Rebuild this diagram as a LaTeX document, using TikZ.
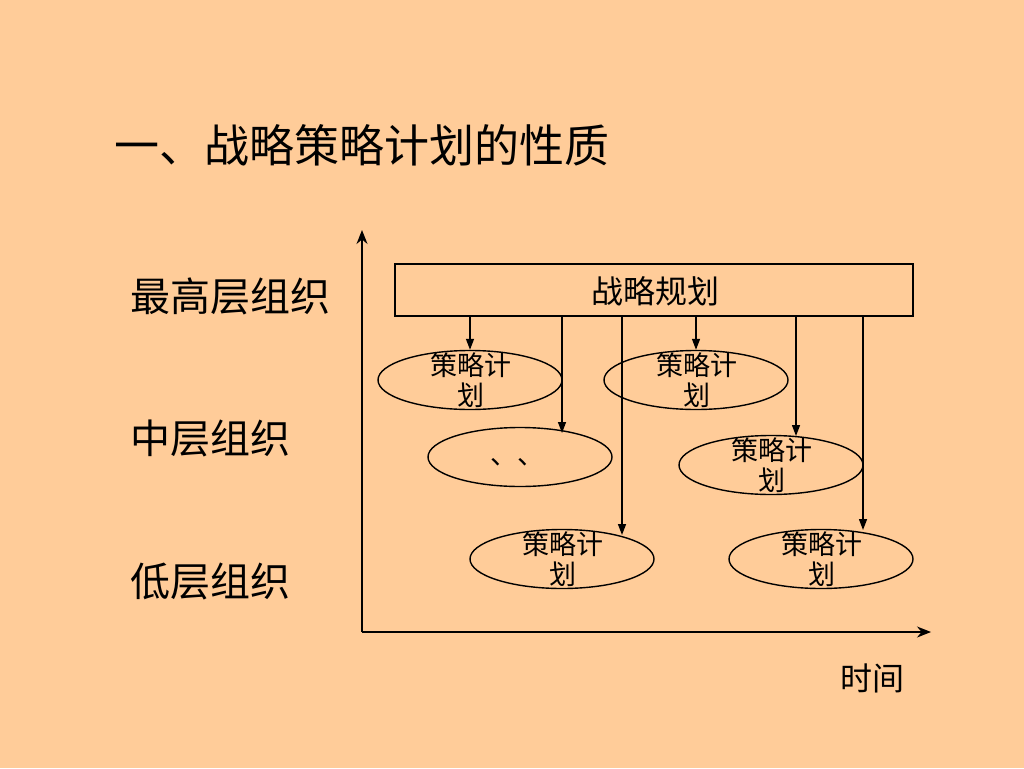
\documentclass[tikz,border=0pt]{standalone}
\usepackage{fontspec}
\setmainfont{Noto Sans CJK SC}
\usetikzlibrary{shapes.geometric,arrows.meta}
\definecolor{bg}{RGB}{255,204,153}
\begin{document}
\begin{tikzpicture}[x=1pt,y=-1pt,
  line width=1.4pt,
  plan/.style={draw,ellipse,minimum width=184pt,minimum height=59pt,inner sep=0pt},
  plantext/.style={font=\fontsize{27}{30}\selectfont,align=center,inner sep=0pt},
  lvl/.style={font=\fontsize{40}{44}\selectfont,anchor=west,inner sep=0pt},
  arr/.style={-{Triangle[length=11pt,width=8pt]}},
  axis/.style={-{Stealth[length=14pt,width=11pt]}}]
\fill[bg] (0,0) rectangle (1024,768);
\useasboundingbox (0,0) rectangle (1024,768);
% title
\node[font=\fontsize{45}{48}\selectfont,anchor=west,inner sep=0pt] (title) at (114,145) {一、战略策略计划的性质};
% level labels
\node[lvl] (top) at (130,296) {最高层组织};
\node[lvl] (mid) at (130,438) {中层组织};
\node[lvl] (low) at (130,581) {低层组织};
% axes
\coordinate (o) at (362,632);
\coordinate (ytop) at (362,230);
\coordinate (xend) at (931,632);
\draw[axis] (o) -- (ytop);
\draw[axis] (o) -- (xend);
\node[font=\fontsize{32}{36}\selectfont,inner sep=0pt] (time) at (872,678) {时间};
% strategic plan box
\node[draw,minimum width=518pt,minimum height=52pt,inner sep=0pt] (r) at (654,290) {};
\node[font=\fontsize{32}{36}\selectfont,inner sep=0pt] (rt) at (655,291) {战略规划};
% ellipses
\node[plan] (e1) at (470,380) {};
\node[plan] (e2) at (696,380) {};
\node[plan] (e3) at (520,457) {};
\node[plan] (e4) at (771,465) {};
\node[plan] (e5) at (562,559) {};
\node[plan] (e6) at (821,559) {};
\node[plantext] (t1) at (471,380) {策略计\\划};
\node[plantext] (t2) at (697,380) {策略计\\划};
\node[plantext] (t3) at (517,462) {、、};
\node[plantext] (t4) at (772,465) {策略计\\划};
\node[plantext] (t5) at (563,559) {策略计\\划};
\node[plantext] (t6) at (822,559) {策略计\\划};
% arrow end points
\coordinate (c3) at (562,433);
\coordinate (c5) at (622,535);
\coordinate (c4) at (796,436);
\coordinate (c6) at (863,530);
\draw[arr] (r.south -| e1.north) -- (e1.north);
\draw[arr] (r.south -| e2.north) -- (e2.north);
\draw[arr] (r.south -| c3) -- (c3);
\draw[arr] (r.south -| c5) -- (c5);
\draw[arr] (r.south -| c4) -- (c4);
\draw[arr] (r.south -| c6) -- (c6);
\end{tikzpicture}
\end{document}
